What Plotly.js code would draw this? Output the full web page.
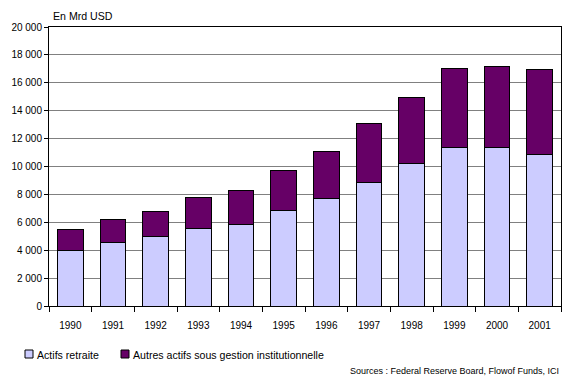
<!DOCTYPE html>
<html><head><meta charset="utf-8">
<script src="https://cdn.plot.ly/plotly-3.0.1.min.js"></script>
<style>body{margin:0;background:#fff}#chart{width:566px;height:384px}</style>
</head><body><div id="chart"></div>
<script>
const years = ['1990','1991','1992','1993','1994','1995','1996','1997','1998','1999','2000','2001'];
const retraite = [4000, 4570, 5000, 5570, 5860, 6860, 7720, 8870, 10230, 11380, 11380, 10880];
const autres = [1450, 1650, 1810, 2220, 2430, 2870, 3370, 4230, 4730, 5660, 5800, 6090];
const seriesNames = ['Actifs retraite', 'Autres actifs sous gestion institutionnelle'];
const seriesColors = ['#CCCCFF', '#660066'];
const yTicks = [0, 2000, 4000, 6000, 8000, 10000, 12000, 14000, 16000, 18000, 20000];

const FAM = 'Liberation Sans, Arial, sans-serif';
const font = {family: FAM, size: 10, color: '#000'};
const textFont = {family: FAM, size: 10.6, color: '#000'};

// plot area in pixels (for converting legend positions to paper coords)
const L = 49, R = 561, T = 27, B = 306;
const px = v => (v - L) / (R - L);
const py = v => (B - v) / (B - T);

const traces = [
  {type: 'bar', x: years, y: retraite, name: seriesNames[0],
   marker: {color: seriesColors[0], line: {color: '#000', width: 1}}, hoverinfo: 'none'},
  {type: 'bar', x: years, y: autres, name: seriesNames[1],
   marker: {color: seriesColors[1], line: {color: '#000', width: 1}}, hoverinfo: 'none'}
];

// legend drawn as small squares + labels (Excel-style compact legend)
const legendSquares = [[25, 33], [121, 129]];
const legendTextX = [35, 131];
const shapes = seriesNames.map((n, i) => ({
  type: 'rect', xref: 'paper', yref: 'paper',
  x0: px(legendSquares[i][0]), x1: px(legendSquares[i][1]), y0: py(350), y1: py(358),
  fillcolor: seriesColors[i], line: {color: '#000', width: 1}
}));
const legendAnn = seriesNames.map((n, i) => ({
  text: n, xref: 'paper', yref: 'paper', x: px(legendTextX[i]), y: py(354.5),
  xanchor: 'left', yanchor: 'middle', showarrow: false, font: textFont
}));

const layout = {
  width: 566, height: 384,
  margin: {l: L, r: 566 - R, t: T, b: 384 - B},
  paper_bgcolor: '#fff', plot_bgcolor: '#fff',
  barmode: 'stack', bargap: 0.4,
  separators: ', ',
  font: font,
  showlegend: false,
  xaxis: {type: 'category', showline: true, linecolor: '#000', linewidth: 1, mirror: true,
          ticks: 'outside', tickson: 'boundaries', ticklen: 5, tickcolor: '#000',
          ticklabelstandoff: 10, tickfont: font, showgrid: false, fixedrange: true},
  yaxis: {range: [0, 20000], tickvals: yTicks, tickformat: ',d', showline: true,
          linecolor: '#000', linewidth: 1, mirror: true, ticks: 'outside', ticklen: 4,
          tickcolor: '#000', tickfont: font, showgrid: true, gridcolor: '#808080',
          gridwidth: 1, zeroline: false, fixedrange: true},
  shapes: shapes,
  annotations: legendAnn.concat([
    {text: 'En Mrd USD', xref: 'paper', yref: 'paper', x: px(83), y: py(15.7), xanchor: 'center',
     yanchor: 'middle', showarrow: false, font: textFont},
    {text: 'Sources : Federal Reserve Board, Flowof Funds, ICI', xref: 'paper', yref: 'paper',
     x: px(454), y: py(371), xanchor: 'center', yanchor: 'middle', showarrow: false,
     font: {family: FAM, size: 9, color: '#000'}}
  ])
};
Plotly.newPlot('chart', traces, layout, {staticPlot: true, displayModeBar: false});
</script></body></html>
